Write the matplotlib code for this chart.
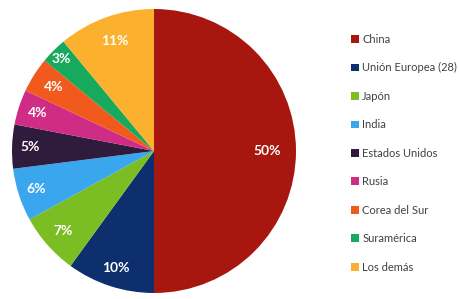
import numpy as np
import matplotlib
matplotlib.use('Agg')
import matplotlib.pyplot as plt
from matplotlib.patches import Patch

plt.rcParams['font.family'] = ['Lato', 'DejaVu Sans']

# data
paises = ['China', 'Unión Europea (28)', 'Japón', 'India', 'Estados Unidos',
          'Rusia', 'Corea del Sur', 'Suramérica', 'Los demás']
valores = [50, 10, 7, 6, 5, 4, 4, 3, 11]
colores = ['#A8170F', '#0E2F6E', '#7BBE24', '#3AA6EE', '#2F1B3B',
           '#D02C86', '#F15A1C', '#17A95C', '#FBB12D']
# radius of each % label (fraction of pie radius)
dist_lbl = [0.80, 0.87, 0.85, 0.87, 0.87, 0.86, 0.84, 0.92, 0.82]

fig = plt.figure(figsize=(4.6, 2.99), dpi=100)
cx, cy, r = 154, 151, 142  # pie centre / radius in pixels
ax = fig.add_axes([(cx - r) / 460, (299 - cy - r) / 299, 2 * r / 460, 2 * r / 299])

wedges, txts, pcts = ax.pie(valores, colors=colores, startangle=90, counterclock=False,
                            autopct='%d%%', pctdistance=0.85,
                            wedgeprops=dict(edgecolor='none'),
                            textprops=dict(color='white', fontsize=10, fontweight='bold'))

# move each label to its own radius
for w, p, d in zip(wedges, pcts, dist_lbl):
    ang = np.deg2rad((w.theta1 + w.theta2) / 2)
    p.set_position((d * np.cos(ang), d * np.sin(ang)))

ax.set_xlim(-1, 1)
ax.set_ylim(-1, 1)
ax.set_aspect('equal')

handles = [Patch(facecolor=c, edgecolor='none') for c in colores]
leg = fig.legend(handles, paises, loc='upper left', bbox_to_anchor=(351 / 460, 1 - 34 / 299),
                 frameon=False, fontsize=8, labelspacing=1.57, handlelength=0.7,
                 handleheight=0.7, handletextpad=0.3, borderpad=0, borderaxespad=0)
for t in leg.get_texts():
    t.set_color('#404040')

fig.savefig('out.png', dpi=100)
